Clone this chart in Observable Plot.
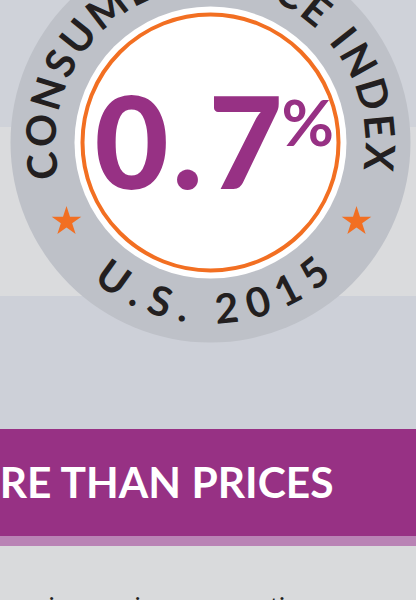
<!DOCTYPE html>
<html><head><meta charset="utf-8">
<script src="https://cdn.jsdelivr.net/npm/d3@7"></script>
<script src="https://cdn.jsdelivr.net/npm/@observablehq/plot@0.6"></script>
<style>
html,body{margin:0;padding:0;background:#d9dadc;overflow:hidden;}
#chart svg{display:block;}
</style>
</head><body><div id="chart"></div>
<script>
// ---- content (data) ----
const ringTopText = "CONSUMER PRICE INDEX";
const ringBottomText = "U.S. 2015";
const cpiDigits = ["0", ".", "7"];
const cpiUnit = "%";
const bannerText = "MORE THAN PRICES";
const ledeFragments = ["i", "i", "ti"];

// ---- layout / style ----
const W = 416, H = 600;
const cx = 210, cy = 142;
const bandEdges = [0, 127, 296, 429, 536, 546, 600];
const bandFills = ["#cfd2d9", "#dadbdd", "#cdd0d8", "#973184", "#b983b5", "#d9dadc"];
const bands = bandFills.map((f, i) => ({y1: bandEdges[i], y2: bandEdges[i + 1], fill: f}));
const purple = "#973184", orange = "#f26f22", ink = "#231f20";
const ringFont = "Lato", ringSize = 41, ringWeight = 700;

const ctx = document.createElement("canvas").getContext("2d");
function arc(text, R, a0, a1) {
  ctx.font = `${ringWeight} ${ringSize}px ${ringFont}`;
  const chars = [...text];
  const w = chars.map(c => ctx.measureText(c).width);
  const n = chars.length;
  let inner = 0;
  for (let i = 0; i < n - 1; i++) inner += (w[i] + w[i + 1]) / 2;
  const total = R * (a1 - a0) * Math.PI / 180;
  const ls = (total - inner) / (n - 1);
  let s = 0;
  return chars.map((c, i) => {
    if (i > 0) s += (w[i - 1] + w[i]) / 2 + ls;
    return {c, a: a0 + (s / R) * 180 / Math.PI};
  });
}
const R = 168;
const topChars = arc(ringTopText, R, -98, 95).map(d => ({
  c: d.c, x: cx + R * Math.sin(d.a * Math.PI / 180), y: cy - R * Math.cos(d.a * Math.PI / 180), r: d.a
}));
const botChars = arc(ringBottomText, R, -35.7, 38.5).map(d => ({
  c: d.c, x: cx + R * Math.sin(d.a * Math.PI / 180), y: cy + R * Math.cos(d.a * Math.PI / 180), r: -d.a
}));

const digitX = [131, 187, 245];
const digitData = cpiDigits.map((c, i) => ({c, x: digitX[i], y: 188}));
const ledeX = [51, 137, 277];
const ledeData = ledeFragments.map((c, i) => ({c, x: ledeX[i], y: 613}));

const chart = Plot.plot({
  width: W, height: H, margin: 0,
  x: {domain: [0, W], range: [0, W], axis: null},
  y: {domain: [0, H], range: [0, H], axis: null},
  style: {background: "#d9dadc", overflow: "hidden"},
  marks: [
    Plot.rect(bands, {x1: 0, x2: W, y1: "y1", y2: "y2", fill: "fill"}),
    Plot.dot([{x: cx, y: cy}], {x: "x", y: "y", r: 200, fill: "#bec1c8"}),
    Plot.dot([{x: cx, y: cy}], {x: "x", y: "y", r: 136, fill: "white"}),
    Plot.dot([{x: cx, y: cy}], {x: "x", y: "y", r: 128, fill: "none", stroke: orange, strokeWidth: 4}),
    Plot.dot([{x: 66, y: 221}, {x: 356, y: 221}], {x: "x", y: "y", symbol: "star", r: 9.3, fill: orange, stroke: "none"}),
    Plot.text(topChars, {x: "x", y: "y", text: "c", rotate: "r", fontSize: ringSize, fontFamily: ringFont, fontWeight: ringWeight, fill: ink, textAnchor: "middle", lineAnchor: "middle"}),
    Plot.text(botChars, {x: "x", y: "y", text: "c", rotate: "r", fontSize: ringSize, fontFamily: ringFont, fontWeight: ringWeight, fill: ink, textAnchor: "middle", lineAnchor: "middle"}),
    Plot.text(digitData, {x: "x", y: "y", text: "c", fontSize: 128, fontFamily: "Lato", fontWeight: 900, fill: purple, textAnchor: "middle", lineAnchor: "bottom"}),
    Plot.text([{c: cpiUnit, x: 281, y: 145}], {x: "x", y: "y", text: "c", fontSize: 64, fontFamily: "Lato", fontWeight: 700, fill: purple, textAnchor: "start", lineAnchor: "bottom"}),
    Plot.text([{c: bannerText, x: 333, y: 497}], {x: "x", y: "y", text: "c", fontSize: 42.5, fontFamily: "Lato", fontWeight: 700, fill: "white", textAnchor: "end", lineAnchor: "bottom"}),
    Plot.text(ledeData, {x: "x", y: "y", text: "c", fontSize: 24, fontFamily: "Lato", fontWeight: 400, fill: ink, textAnchor: "middle", lineAnchor: "bottom"})
  ]
});
document.getElementById("chart").appendChild(chart);
</script>
</body></html>
